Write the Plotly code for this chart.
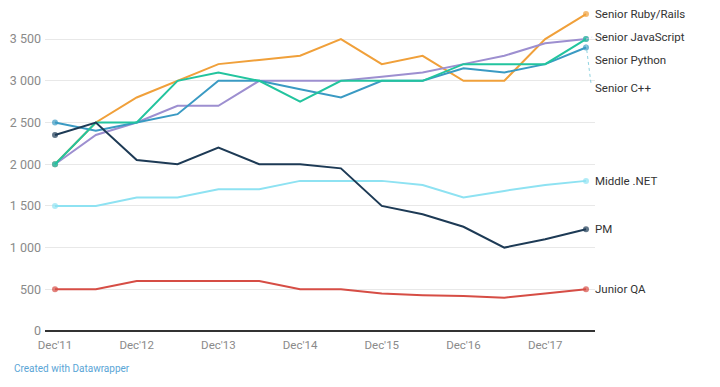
import plotly.graph_objects as go

periods = ["Dec'11", "Jun'12", "Dec'12", "Jun'13", "Dec'13", "Jun'14", "Dec'14",
           "Jun'15", "Dec'15", "Jun'16", "Dec'16", "Jun'17", "Dec'17", "Jun'18"]

ruby = [2000, 2500, 2800, 3000, 3200, 3250, 3300, 3500, 3200, 3300, 3000, 3000, 3500, 3800]
javascript = [2000, 2350, 2500, 2700, 2700, 3000, 3000, 3000, 3050, 3100, 3200, 3300, 3450, 3500]
python = [2500, 2400, 2500, 2600, 3000, 3000, 2900, 2800, 3000, 3000, 3150, 3100, 3200, 3400]
cpp = [2000, 2500, 2500, 3000, 3100, 3000, 2750, 3000, 3000, 3000, 3200, 3200, 3200, 3500]
middle_net = [1500, 1500, 1600, 1600, 1700, 1700, 1800, 1800, 1800, 1750, 1600, 1680, 1750, 1800]
pm = [2350, 2500, 2050, 2000, 2200, 2000, 2000, 1950, 1500, 1400, 1250, 1000, 1100, 1220]
junior_qa = [500, 500, 600, 600, 600, 600, 500, 500, 450, 430, 420, 400, 450, 500]

series_names = ["Senior Ruby/Rails", "Senior JavaScript", "Senior Python", "Senior C++",
                "Middle .NET", "PM", "Junior QA"]
series_values = [ruby, javascript, python, cpp, middle_net, pm, junior_qa]
colors = ["#f0a03a", "#9d8fd0", "#3a9ac3", "#22c49e", "#8ee2f2", "#1d3a55", "#d64d45"]
# label vertical positions (data units) after de-overlapping
label_y = [3800, 3525, 3250, 2915, 1800, 1220, 500]

y_ticks = [0, 500, 1000, 1500, 2000, 2500, 3000, 3500]
y_ticktext = ["0", "500", "1 000", "1 500", "2 000", "2 500", "3 000", "3 500"]

x = list(range(len(periods)))
n = len(periods)

fig = go.Figure()

for i in range(len(series_names)):
    vals = series_values[i]
    sizes = [6] + [0] * (n - 2) + [6]
    fig.add_trace(go.Scatter(
        x=x, y=vals, mode="lines+markers",
        line=dict(color=colors[i], width=2),
        marker=dict(size=sizes, color=colors[i], line=dict(width=0)),
        name=series_names[i], showlegend=False, hoverinfo="skip",
    ))

for i, name in enumerate(series_names):
    fig.add_annotation(
        x=n - 1, y=label_y[i], xref="x", yref="y",
        text=name, showarrow=False, xanchor="left", yanchor="middle",
        xshift=7, font=dict(family="Roboto, sans-serif", size=11.5, color="#333333"),
    )

# dotted leader line for Senior C++ label
fig.add_shape(type="line", xref="x", yref="y",
              x0=n - 1, y0=cpp[-1] - 60, x1=n - 1 + 0.12, y1=label_y[3] + 60,
              line=dict(color="#8fd3e0", width=1, dash="dot"))
# short leader for Senior JavaScript
fig.add_shape(type="line", xref="x", yref="y",
              x0=n - 1, y0=javascript[-1], x1=n - 1 + 0.15, y1=label_y[1],
              line=dict(color="#b9b0e0", width=1, dash="dot"))

# footer
fig.add_annotation(
    x=-33 / 550, y=-37 / 323, xref="paper", yref="paper", text="Created with Datawrapper",
    showarrow=False, xanchor="left", yanchor="middle",
    font=dict(family="Roboto, sans-serif", size=10, color="#5aa5d6"),
)

fig.update_layout(
    width=712, height=379,
    margin=dict(l=37, r=125, t=0, b=56),
    paper_bgcolor="white", plot_bgcolor="white",
    font=dict(family="Roboto, sans-serif", size=11, color="#888888"),
    xaxis=dict(
        range=[-0.245, n - 1 + 0.22],
        tickvals=x[::2], ticktext=periods[::2],
        showgrid=False, zeroline=False, showline=False,
        ticks="", ticklabelstandoff=5, tickfont=dict(size=11.5, color="#8a8a8a"),
        fixedrange=True,
    ),
    yaxis=dict(
        range=[0, 3873],
        tickvals=y_ticks, ticktext=y_ticktext,
        showgrid=True, gridcolor="#e8e8e8", gridwidth=1,
        zeroline=True, zerolinecolor="#333333", zerolinewidth=1.5,
        showline=False, ticks="", ticklabelstandoff=3,
        tickfont=dict(size=12.5, color="#8a8a8a"),
        fixedrange=True,
    ),
)

fig.write_html("out.html")
